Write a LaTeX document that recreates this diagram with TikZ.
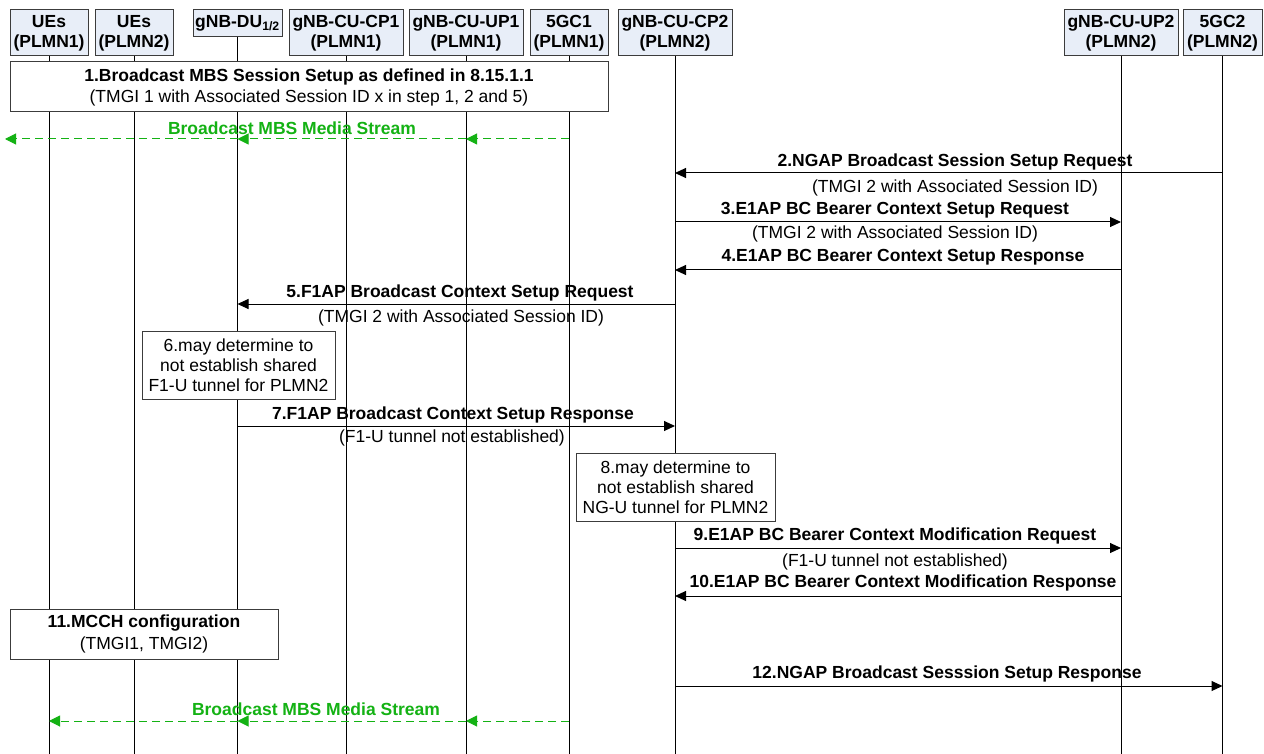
\documentclass[tikz,border=0pt]{standalone}
\usepackage{fontspec}
\setmainfont{Liberation Sans}
\usetikzlibrary{arrows.meta}
\definecolor{hdrfill}{RGB}{232,238,248}
\definecolor{hdrline}{RGB}{60,60,60}
\definecolor{mbsgreen}{RGB}{20,178,20}
\newcommand\fsz{\fontsize{17.5}{20}\selectfont}
\begin{document}
\begin{tikzpicture}[x=1pt,y=-1pt,
  hdr/.style={draw=hdrline, fill=hdrfill, line width=1pt, font=\fsz\bfseries, align=center, inner sep=0pt, minimum height=46pt},
  life/.style={draw=black, line width=1pt},
  box/.style={draw=hdrline, fill=white, line width=1pt, font=\fsz, align=center, inner sep=0pt},
  txt/.style={font=\fsz, inner sep=0pt},
  btxt/.style={font=\fsz\bfseries, inner sep=0pt},
  gtxt/.style={font=\fsz\bfseries, text=mbsgreen, inner sep=0pt},
  msg/.style={draw=black, line width=1pt, -{Triangle[length=11pt,width=10pt]}},
  gmsg/.style={draw=mbsgreen, line width=1pt, dash pattern=on 8pt off 5pt, -{Triangle[length=11pt,width=11pt]}}
]
\useasboundingbox (0,0) rectangle (1264,754);
\fill[white] (0,0) rectangle (1264,754);

% headers
\node[hdr, minimum width=78pt] (ue1) at (49,33) {UEs\\(PLMN1)};
\node[hdr, minimum width=78pt] (ue2) at (134,33) {UEs\\(PLMN2)};
\node[hdr, minimum width=89pt, minimum height=27pt] (du) at (237.5,23.5) {gNB-DU\textsubscript{1/2}};
\node[hdr, minimum width=114pt] (cp1) at (346,33) {gNB-CU-CP1\\(PLMN1)};
\node[hdr, minimum width=114pt] (up1) at (466,33) {gNB-CU-UP1\\(PLMN1)};
\node[hdr, minimum width=78pt] (gc1) at (569,33) {5GC1\\(PLMN1)};
\node[hdr, minimum width=114pt] (cp2) at (675,33) {gNB-CU-CP2\\(PLMN2)};
\node[hdr, minimum width=114pt] (up2) at (1121,33) {gNB-CU-UP2\\(PLMN2)};
\node[hdr, minimum width=79pt] (gc2) at (1222.5,33) {5GC2\\(PLMN2)};

% lifelines
\coordinate (bottom) at (0,754);
\foreach \n in {ue1,ue2,du,cp1,up1,gc1,cp2,up2,gc2}
  \draw[life] (\n.south) -- (\n.south |- bottom);

% step 1
\node[box, minimum width=598pt, minimum height=50pt] (s1) at (309,87)
  {\textbf{1.Broadcast MBS Session Setup as defined in 8.15.1.1}\\[1pt](TMGI 1 with Associated Session ID x in step 1, 2 and 5)};

% broadcast stream 1
\coordinate (g1) at (0,139);
\coordinate (g1left) at (5,139);
\node[gtxt] (g1l) at (292,128) {Broadcast MBS Media Stream};
\draw[gmsg] (gc1 |- g1) -- (up1 |- g1);
\draw[gmsg] (up1 |- g1) -- (du |- g1);
\draw[gmsg] (du |- g1) -- (g1left);

% 2
\coordinate (y2) at (0,173);
\draw[msg] (gc2 |- y2) -- (cp2 |- y2);
\node[btxt] (l2) at (955,162) {2.NGAP Broadcast Session Setup Request};
\node[txt] (l2b) at (955,188) {(TMGI 2 with Associated Session ID)};

% 3
\coordinate (y3) at (0,222);
\draw[msg] (cp2 |- y3) -- (up2 |- y3);
\node[btxt] (l3) at (895,210) {3.E1AP BC Bearer Context Setup Request};
\node[txt] (l3b) at (895,234) {(TMGI 2 with Associated Session ID)};

% 4
\coordinate (y4) at (0,270);
\draw[msg] (up2 |- y4) -- (cp2 |- y4);
\node[btxt] (l4) at (903,257) {4.E1AP BC Bearer Context Setup Response};

% 5
\coordinate (y5) at (0,304);
\draw[msg] (cp2 |- y5) -- (du |- y5);
\node[btxt] (l5) at (460,293) {5.F1AP Broadcast Context Setup Request};
\node[txt] (l5b) at (461,318) {(TMGI 2 with Associated Session ID)};

% 6
\node[box, minimum width=193pt, minimum height=68pt] (s6) at (238.5,365)
  {6.may determine to\\not establish shared\\F1-U tunnel for PLMN2};

% 7
\coordinate (y7) at (0,426);
\draw[msg] (du |- y7) -- (cp2 |- y7);
\node[btxt] (l7) at (453,415) {7.F1AP Broadcast Context Setup Response};
\node[txt] (l7b) at (452,438) {(F1-U tunnel not established)};

% 8
\node[box, minimum width=199pt, minimum height=68pt] (s8) at (675.5,487)
  {8.may determine to\\not establish shared\\NG-U tunnel for PLMN2};

% 9
\coordinate (y9) at (0,548);
\draw[msg] (cp2 |- y9) -- (up2 |- y9);
\node[btxt] (l9) at (895,536) {9.E1AP BC Bearer Context Modification Request};
\node[txt] (l9b) at (895,562) {(F1-U tunnel not established)};

% 10
\coordinate (y10) at (0,596);
\draw[msg] (up2 |- y10) -- (cp2 |- y10);
\node[btxt] (l10) at (903,583) {10.E1AP BC Bearer Context Modification Response};

% 11
\node[box, minimum width=268pt, minimum height=50pt] (s11) at (144,634)
  {\textbf{11.MCCH configuration}\\[2pt](TMGI1, TMGI2)};

% 12
\coordinate (y12) at (0,686);
\draw[msg] (cp2 |- y12) -- (gc2 |- y12);
\node[btxt] (l12) at (947,674) {12.NGAP Broadcast Sesssion Setup Response};

% broadcast stream 2
\coordinate (g2) at (0,721);
\node[gtxt] (g2l) at (316,709) {Broadcast MBS Media Stream};
\draw[gmsg] (gc1 |- g2) -- (up1 |- g2);
\draw[gmsg] (up1 |- g2) -- (du |- g2);
\draw[gmsg] (du |- g2) -- (ue1 |- g2);
\end{tikzpicture}
\end{document}
